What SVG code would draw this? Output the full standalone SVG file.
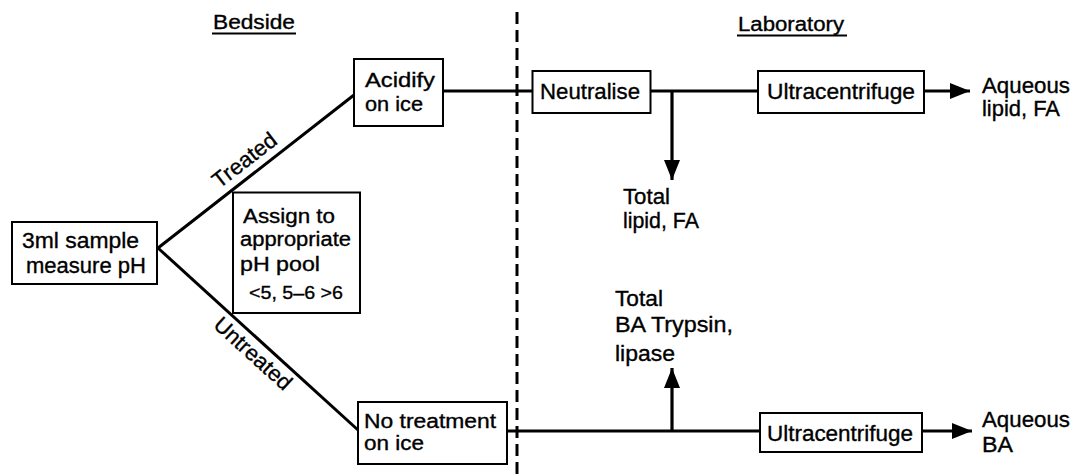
<svg xmlns="http://www.w3.org/2000/svg" width="1073" height="475" viewBox="0 0 1073 475">
<style>
text{font-family:"Liberation Sans",Arial,sans-serif;font-size:22px;fill:#000;stroke:#000;stroke-width:0.35}
.hd{font-size:20px}
.md{font-size:20px}
.sm{font-size:19px}
.box{fill:#fff;stroke:#000;stroke-width:2}
.ln{fill:none;stroke:#000;stroke-width:3.2}
.dg{fill:none;stroke:#000;stroke-width:3}
.ul{stroke:#000;stroke-width:2}
</style>
<defs>
<marker id="ah" markerUnits="userSpaceOnUse" markerWidth="22" markerHeight="18" refX="20" refY="9" orient="auto">
<path d="M0,1 L20,9 L0,17 Z" fill="#000"/>
</marker>
</defs>
<g id="headers">
<text class="hd" x="213" y="29" textLength="82" lengthAdjust="spacingAndGlyphs">Bedside</text>
<line class="ul" x1="212" y1="33.5" x2="296" y2="33.5"/>
<text class="hd" x="738" y="31" textLength="106" lengthAdjust="spacingAndGlyphs">Laboratory</text>
<line class="ul" x1="737" y1="35.5" x2="847" y2="35.5"/>
</g>
<g id="divider">
<line x1="517" y1="12" x2="517" y2="475" stroke="#000" stroke-width="3" stroke-dasharray="12 6"/>
</g>
<g id="connectors">
<line class="dg" x1="158" y1="248" x2="354" y2="95"/>
<line class="dg" x1="158" y1="248" x2="358" y2="430"/>
<line class="ln" x1="443" y1="91" x2="532.5" y2="91"/>
<line class="ln" x1="650.5" y1="91" x2="758" y2="91"/>
<line class="ln" x1="924" y1="91" x2="970" y2="91" marker-end="url(#ah)"/>
<line class="ln" x1="672" y1="91" x2="672" y2="180" marker-end="url(#ah)"/>
<line class="ln" x1="507" y1="431" x2="760" y2="431"/>
<line class="ln" x1="922" y1="431" x2="972" y2="431" marker-end="url(#ah)"/>
<line class="ln" x1="672" y1="431" x2="672" y2="368" marker-end="url(#ah)"/>
<text transform="translate(249,166) rotate(-37.8)" text-anchor="middle" font-size="21">Treated</text>
<text transform="translate(248,359) rotate(42.3)" text-anchor="middle" font-size="21">Untreated</text>
</g>
<g id="sample">
<rect class="box" x="12" y="222" width="145" height="62"/>
<text x="22" y="248" textLength="117" lengthAdjust="spacingAndGlyphs">3ml sample</text>
<text x="26" y="273" textLength="120" lengthAdjust="spacingAndGlyphs">measure pH</text>
</g>
<g id="assign">
<rect class="box" x="233" y="192.5" width="127" height="120.5"/>
<text class="md" x="243" y="223" textLength="92" lengthAdjust="spacingAndGlyphs">Assign to</text>
<text class="md" x="240" y="246" textLength="111" lengthAdjust="spacingAndGlyphs">appropriate</text>
<text class="md" x="240" y="271" textLength="80" lengthAdjust="spacingAndGlyphs">pH pool</text>
<text class="sm" x="249" y="299" textLength="94" lengthAdjust="spacingAndGlyphs">&lt;5, 5–6 &gt;6</text>
</g>
<g id="acidify">
<rect class="box" x="354" y="59" width="89" height="67"/>
<text class="md" x="365" y="87" textLength="70" lengthAdjust="spacingAndGlyphs">Acidify</text>
<text class="md" x="365" y="111" textLength="58" lengthAdjust="spacingAndGlyphs">on ice</text>
</g>
<g id="notreatment">
<rect class="box" x="358" y="402" width="149" height="62"/>
<text class="md" x="364" y="428" textLength="132" lengthAdjust="spacingAndGlyphs">No treatment</text>
<text class="md" x="364" y="450" textLength="60" lengthAdjust="spacingAndGlyphs">on ice</text>
</g>
<g id="neutralise">
<rect class="box" x="532.5" y="71" width="118" height="42"/>
<text x="540" y="99" textLength="100" lengthAdjust="spacingAndGlyphs">Neutralise</text>
</g>
<g id="ultra1">
<rect class="box" x="758" y="71" width="166" height="42"/>
<text x="767" y="99" textLength="148" lengthAdjust="spacingAndGlyphs">Ultracentrifuge</text>
</g>
<g id="ultra2">
<rect class="box" x="760" y="413" width="162" height="39"/>
<text x="767" y="441" textLength="146" lengthAdjust="spacingAndGlyphs">Ultracentrifuge</text>
</g>
<g id="out-aq-lipid">
<text x="982" y="93" textLength="88" lengthAdjust="spacingAndGlyphs">Aqueous</text>
<text x="982" y="116" textLength="78" lengthAdjust="spacingAndGlyphs">lipid, FA</text>
</g>
<g id="out-total-lipid">
<text x="623" y="204" textLength="47" lengthAdjust="spacingAndGlyphs">Total</text>
<text x="623" y="228" textLength="76" lengthAdjust="spacingAndGlyphs">lipid, FA</text>
</g>
<g id="out-total-ba">
<text x="615" y="306" textLength="48" lengthAdjust="spacingAndGlyphs">Total</text>
<text x="615" y="332" textLength="118" lengthAdjust="spacingAndGlyphs">BA Trypsin,</text>
<text x="615" y="361" textLength="60" lengthAdjust="spacingAndGlyphs">lipase</text>
</g>
<g id="out-aq-ba">
<text x="982" y="427" textLength="88" lengthAdjust="spacingAndGlyphs">Aqueous</text>
<text x="982" y="452" textLength="31" lengthAdjust="spacingAndGlyphs">BA</text>
</g>
</svg>
